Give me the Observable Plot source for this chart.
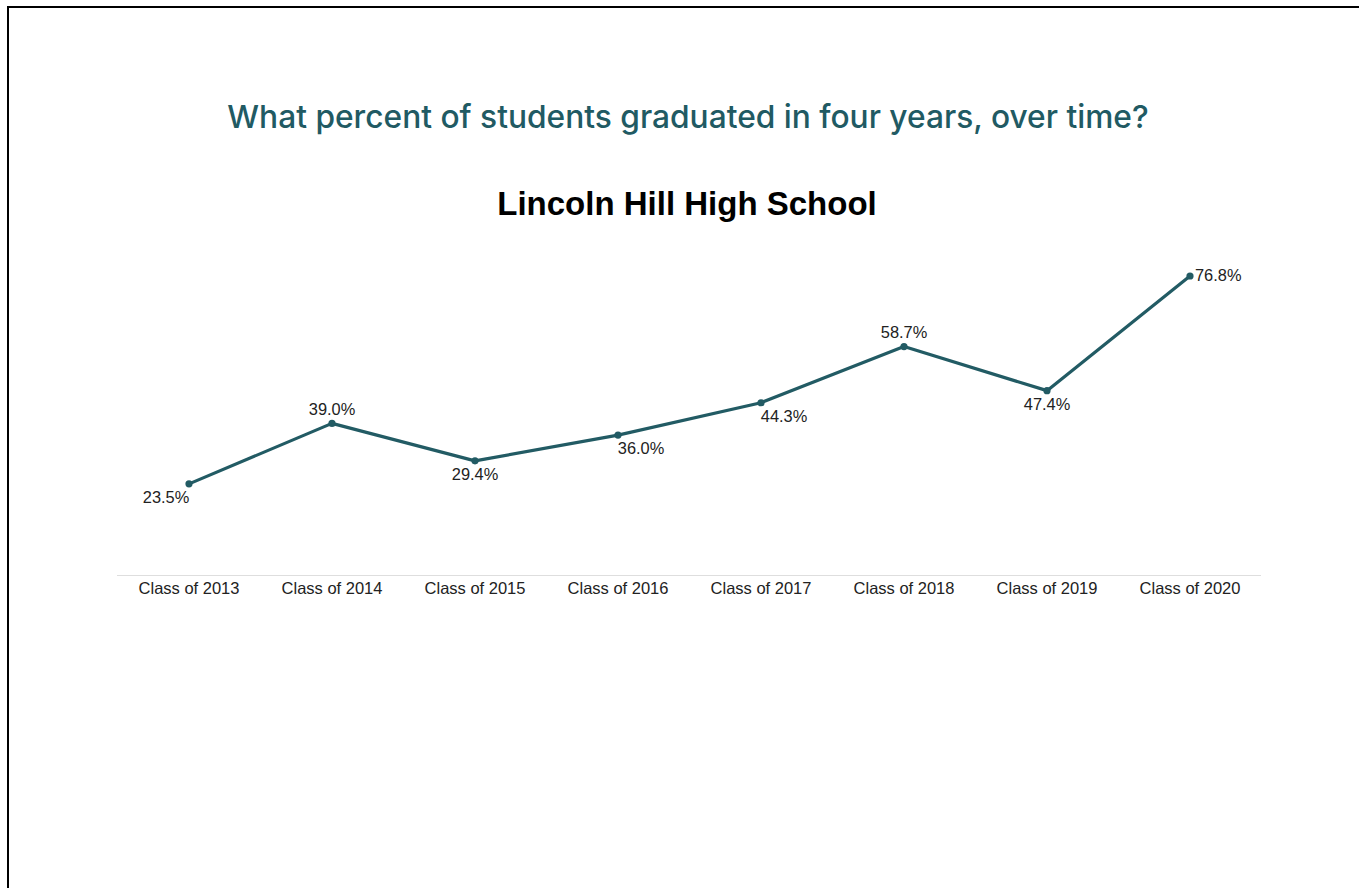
<!DOCTYPE html>
<html>
<head>
<meta charset="utf-8">
<script src="https://cdn.jsdelivr.net/npm/d3@7"></script>
<script src="https://cdn.jsdelivr.net/npm/@observablehq/plot@0.6"></script>
<style>
  html, body { margin: 0; padding: 0; background: #fff; }
  body { width: 1359px; height: 888px; position: relative; overflow: hidden; }
  #frame { position: absolute; left: 7px; top: 6px; right: -10px; bottom: -10px;
           border-top: 2px solid #000; border-left: 2px solid #000; }
  #title { position: absolute; left: 0; width: 1376px; top: 97px; text-align: center;
           font-family: Inter, "Open Sans", sans-serif; font-weight: 500; font-size: 31.7px;
           color: #215a63; margin: 0; white-space: nowrap; }
  #subtitle { position: absolute; left: 0; width: 1374px; top: 185px; text-align: center;
              font-family: "Liberation Sans", Arial, sans-serif; font-weight: 700; font-size: 33px;
              color: #000; margin: 0; white-space: nowrap; }
  #chart { position: absolute; left: 0; top: 240px; }
</style>
</head>
<body>
<div id="frame"></div>
<div id="title">What percent of students graduated in four years, over time?</div>
<div id="subtitle">Lincoln Hill High School</div>
<div id="chart"></div>
<script>
const classes = ["Class of 2013", "Class of 2014", "Class of 2015", "Class of 2016",
                 "Class of 2017", "Class of 2018", "Class of 2019", "Class of 2020"];
const rates = [23.5, 39.0, 29.4, 36.0, 44.3, 58.7, 47.4, 76.8];
const labelSide = ["below-left", "above", "below", "below-right", "below-right", "above", "below", "right"];

const data = classes.map((c, i) => ({cls: c, rate: rates[i], side: labelSide[i], label: rates[i].toFixed(1) + "%"}));

const offsets = {
  "above":       {dx: 0,   dy: -14, anchor: "middle"},
  "below":       {dx: 0,   dy: 14,  anchor: "middle"},
  "below-left":  {dx: -23, dy: 14,  anchor: "middle"},
  "below-right": {dx: 23,  dy: 14,  anchor: "middle"},
  "right":       {dx: 5,   dy: 0,   anchor: "start"}
};

const lineColor = "#225b64";
const font = "'Liberation Sans', Arial, sans-serif";

const labelMarks = Object.entries(offsets).map(([side, o]) =>
  Plot.text(data.filter(d => d.side === side), {
    x: "cls", y: "rate", text: "label",
    dx: o.dx, dy: o.dy, textAnchor: o.anchor,
    fontSize: 16.4, fill: "#222", fontFamily: font
  })
);

const chart = Plot.plot({
  width: 1359,
  height: 380,
  marginLeft: 117,
  marginRight: 98,
  marginTop: 23,
  marginBottom: 45,
  style: {fontFamily: font, fontSize: "16.5px", color: "#222", background: "transparent"},
  x: {type: "point", domain: classes, padding: 0.5, round: false, label: null},
  y: {domain: [0, 80], axis: null},
  marks: [
    Plot.ruleY([0], {stroke: "#dedede", strokeWidth: 1.2}),
    Plot.axisX({tickSize: 0, tickPadding: 7, fontSize: 16.5, fill: "#222", label: null}),
    Plot.line(data, {x: "cls", y: "rate", stroke: lineColor, strokeWidth: 3.2}),
    Plot.dot(data, {x: "cls", y: "rate", r: 3.6, fill: lineColor, stroke: "none"}),
    ...labelMarks
  ]
});
document.getElementById("chart").appendChild(chart);
</script>
</body>
</html>
